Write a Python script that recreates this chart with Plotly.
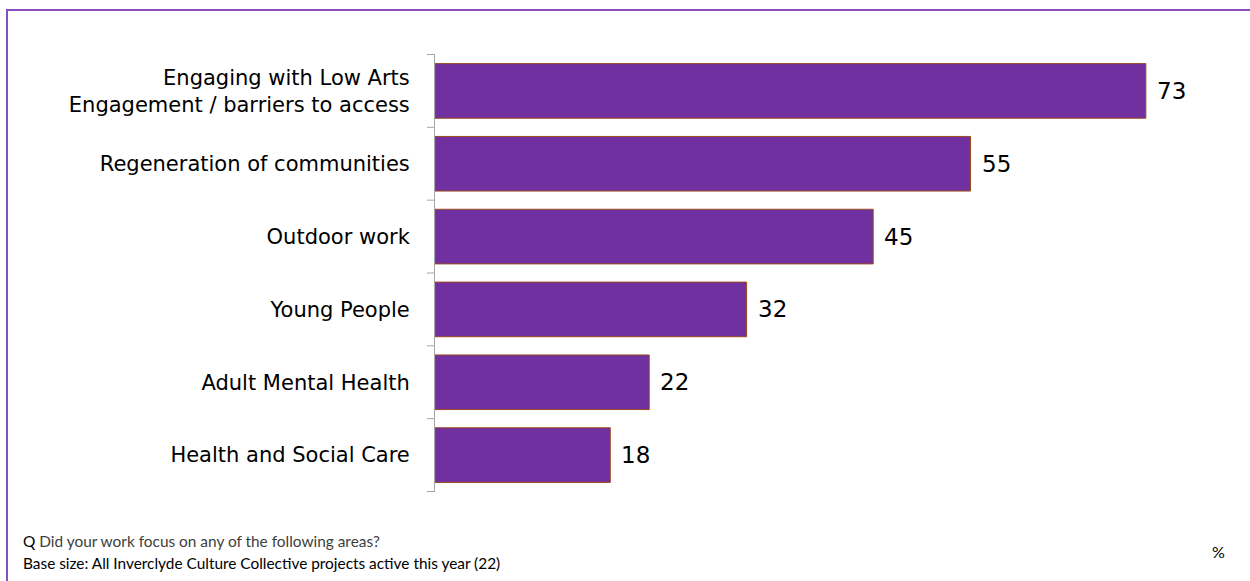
import plotly.graph_objects as go

# Survey results: share of projects (%) focusing on each area
categories = [
    "Engaging with Low Arts<br>Engagement / barriers to access",
    "Regeneration of communities",
    "Outdoor work",
    "Young People",
    "Adult Mental Health",
    "Health and Social Care",
]
values = [73, 55, 45, 32, 22, 18]

question_text = "<span style='color:#000'>Q</span> Did your work focus on any of the following areas?"
base_text = "Base size: All Inverclyde Culture Collective projects active this year (22)"
unit_text = "%"

LABEL_FONT = "DejaVu Sans"
NOTE_FONT = "Lato"

fig = go.Figure(
    go.Bar(
        x=values,
        y=categories,
        orientation="h",
        width=0.75,
        marker=dict(color="#7030A0", line=dict(color="#9C4A1E", width=1)),
        cliponaxis=False,
    )
)

# value labels placed just beyond the end of each bar
value_labels = [
    dict(x=v, y=c, text=str(v), xref="x", yref="y", xanchor="left", yanchor="middle",
         xshift=9, showarrow=False, font=dict(family=LABEL_FONT, size=23, color="#000000"))
    for c, v in zip(categories, values)
]

fig.update_layout(
    width=1250,
    height=581,
    margin=dict(l=435, r=36, t=54, b=89),
    paper_bgcolor="#ffffff",
    plot_bgcolor="#ffffff",
    showlegend=False,
    font=dict(family=LABEL_FONT, color="#000000"),
    xaxis=dict(
        range=[0, 80],
        visible=False,
        showgrid=False,
        zeroline=False,
    ),
    yaxis=dict(
        autorange="reversed",
        showline=True,
        linecolor="#A6A6A6",
        linewidth=1,
        ticks="outside",
        ticklen=0,
        showgrid=False,
        tickfont=dict(family=LABEL_FONT, size=21, color="#000000"),
        ticklabelstandoff=20,
    ),
    shapes=[
        # frame around the whole panel
        dict(type="rect", xref="paper", yref="paper",
             x0=-435 / 779 + 7 / 779, x1=1.1, y0=-0.3, y1=1 + 44 / 438,
             line=dict(color="#8A4FBF", width=2), fillcolor="rgba(0,0,0,0)"),
    ] + [
        # category boundary ticks on the left of the axis
        dict(type="line", xref="paper", yref="y",
             x0=-8 / 779, x1=0, y0=i - 0.5, y1=i - 0.5,
             line=dict(color="#A6A6A6", width=1))
        for i in range(len(categories) + 1)
    ],
    annotations=value_labels + [
        dict(text=question_text, xref="paper", yref="paper",
             x=-414 / 779, y=-49 / 438, xanchor="left", yanchor="middle",
             showarrow=False, font=dict(family=NOTE_FONT, size=15.4, color="#404040")),
        dict(text=base_text, xref="paper", yref="paper",
             x=-414 / 779, y=-71 / 438, xanchor="left", yanchor="middle",
             showarrow=False, font=dict(family=NOTE_FONT, size=15.4, color="#000000")),
        dict(text=unit_text, xref="paper", yref="paper",
             x=(1218 - 435) / 779, y=-59 / 438, xanchor="center", yanchor="middle",
             showarrow=False, font=dict(family=NOTE_FONT, size=16, color="#000000")),
    ],
)

fig.write_html("out.html")
